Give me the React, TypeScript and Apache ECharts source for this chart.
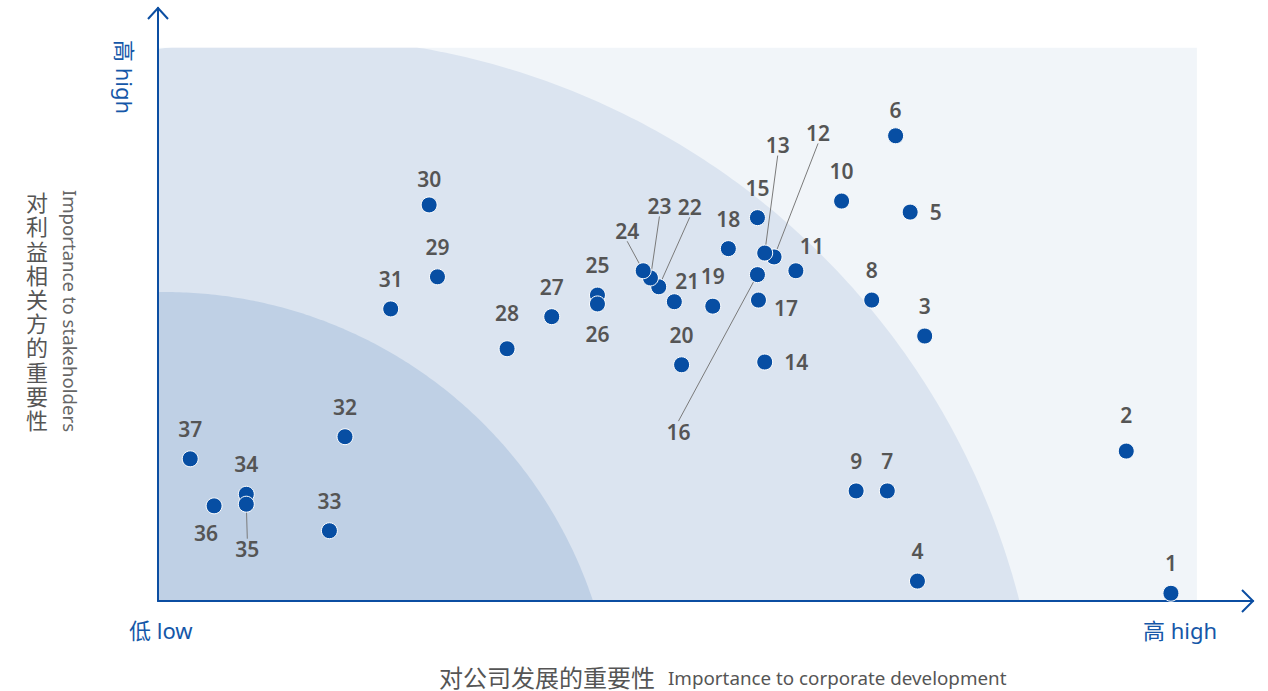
import React, { useEffect, useRef } from "react";
import * as echarts from "echarts";

// ---------------- data ----------------
const issueIds = [
  "1", "2", "3", "4", "5", "6", "7", "8", "9", "10",
  "11", "12", "13", "14", "15", "16", "17", "18", "19", "20",
  "21", "22", "23", "24", "25", "26", "27", "28", "29", "30",
  "31", "32", "33", "34", "35", "36", "37",
];
// importance to corporate development (0-10)
const corporateImportance = [
  9.75, 9.32, 7.38, 7.31, 7.24, 7.10, 7.02, 6.87, 6.72, 6.58,
  6.14, 5.93, 5.84, 5.84, 5.77, 5.77, 5.78, 5.49, 5.34, 5.04,
  4.97, 4.82, 4.74, 4.67, 4.23, 4.23, 3.79, 3.36, 2.69, 2.61,
  2.24, 1.80, 1.65, 0.85, 0.85, 0.54, 0.31,
];
// importance to stakeholders (0-10)
const stakeholderImportance = [
  0.14, 2.71, 4.79, 0.36, 7.03, 8.41, 1.99, 5.44, 1.99, 7.23,
  5.97, 6.22, 6.29, 4.32, 6.93, 5.90, 5.44, 6.37, 5.33, 4.27,
  5.41, 5.68, 5.84, 5.97, 5.53, 5.37, 5.14, 4.56, 5.86, 7.16,
  5.28, 2.97, 1.27, 1.93, 1.75, 1.72, 2.57,
];
const xEndLabels = ["低 low", "高 high"];
const yEndLabel = "高 high";
const xTitleCn = "对公司发展的重要性";
const xTitleEn = "Importance to corporate development";
const yTitleCn = "对利益相关方的重要性";
const yTitleEn = "Importance to stakeholders";

// ---------------- styling ----------------
const AXIS_BLUE = "#0b4ea2";
const LABEL_BLUE = "#1557a8";
const DOT_BLUE = "#074ea3";
const TEXT_GREY = "#555555";
const FONT = '"Noto Sans", "Noto Sans CJK SC", sans-serif';

// label side per issue (style, not data); default is top
const labelSide: Record<string, string> = {
  "5": "right",
  "14": "right",
  "17": "right",
  "26": "bottom",
  "36": "bottom",
};
// small nudges of labels (dx, dy)
const labelNudge: Record<string, number[]> = {
  "11": [16, 5],
  "21": [13, 9],
  "17": [-4, 8],
  "36": [-8, -3],
  "2": [0, -6],
  "28": [0, -6],
  "6": [0, 4],
  "30": [0, 4],
};
// labels moved away with a leader line (dx, dy from the dot centre)
const leaderShift: Record<string, number[]> = {
  "12": [44, -124],
  "13": [13, -108],
  "16": [-79, 157],
  "22": [31, -80],
  "23": [9, -72],
  "24": [-16, -40],
  "35": [1, 45],
};

const X_MAX = 10.54;
const Y_MAX = 10.72;

function zonePolygon(o: number[], c: number[], k: number, rel: number[], r: number) {
  const cx = o[0] + rel[0] * k;
  const cy = o[1] + rel[1] * k;
  const R = r * k;
  const top = c[1];
  const bx = cx + Math.sqrt(Math.max(R * R - (o[1] - cy) * (o[1] - cy), 0));
  const ly = cy - Math.sqrt(Math.max(R * R - (o[0] - cx) * (o[0] - cx), 0));
  const a1 = Math.atan2(o[1] - cy, bx - cx);
  const a2 = Math.atan2(ly - cy, o[0] - cx);
  const pts: number[][] = [[o[0], o[1]]];
  const n = 160;
  for (let i = 0; i <= n; i++) {
    const a = a1 + ((a2 - a1) * i) / n;
    let x = cx + R * Math.cos(a);
    let y = cy + R * Math.sin(a);
    if (y < top) y = top;
    if (x > c[0]) x = c[0];
    if (x < o[0]) x = o[0];
    pts.push([x, y]);
  }
  return pts;
}

export default function App() {
  const ref = useRef<HTMLDivElement>(null);
  useEffect(() => {
    if (!ref.current) return;
    const chart = echarts.init(ref.current, undefined, { renderer: "svg" });

    const points = issueIds.map((id, i) => {
      const item: any = {
        name: id,
        value: [corporateImportance[i], stakeholderImportance[i]],
      };
      if (leaderShift[id]) {
        item.label = { position: "inside" };
        item.labelLine = { show: true };
      } else if (labelSide[id]) {
        item.label = { position: labelSide[id] };
      }
      return item;
    });

    const option: any = {
      animation: false,
      grid: { left: 158, top: 8, right: 15, bottom: 90, containLabel: false },
      xAxis: {
        type: "value",
        min: 0,
        max: X_MAX,
        z: 3,
        axisLine: { show: true, onZero: false, lineStyle: { color: AXIS_BLUE, width: 2 } },
        axisTick: { show: false },
        axisLabel: { show: false },
        splitLine: { show: false },
      },
      yAxis: {
        type: "value",
        min: 0,
        max: Y_MAX,
        z: 3,
        axisLine: { show: true, onZero: false, lineStyle: { color: AXIS_BLUE, width: 2 } },
        axisTick: { show: false },
        axisLabel: { show: false },
        splitLine: { show: false },
      },
      series: [
        {
          type: "custom",
          silent: true,
          z: 1,
          clip: false,
          data: [[0, 0]],
          renderItem: (params: any, api: any) => {
            const o = api.coord([0, 0]);
            const c = api.coord([10, 10]);
            const w = c[0] - o[0];
            const h = o[1] - c[1];
            const k = w / 1039;
            return {
              type: "group",
              children: [
                {
                  type: "rect",
                  shape: { x: o[0], y: c[1], width: w, height: h },
                  style: { fill: "#f1f5f9" },
                },
                {
                  type: "polygon",
                  shape: { points: zonePolygon(o, c, k, [135, 186], 750) },
                  style: { fill: "#dbe4f0" },
                },
                {
                  type: "polygon",
                  shape: { points: zonePolygon(o, c, k, [7, 142], 451) },
                  style: { fill: "#bfd0e5" },
                },
              ],
            };
          },
        },
        {
          type: "scatter",
          z: 4,
          symbolSize: 16,
          itemStyle: { color: DOT_BLUE, borderColor: "#ffffff", borderWidth: 1, opacity: 1 },
          label: {
            show: true,
            position: "top",
            distance: 11,
            formatter: "{b}",
            color: TEXT_GREY,
            fontSize: 21,
            fontWeight: 600,
            fontFamily: FONT,
          },
          labelLine: { show: false, lineStyle: { color: "#7a7a7a", width: 1 } },
          labelLayout: (params: any) => {
            const id = issueIds[params.dataIndex];
            const s = leaderShift[id] || labelNudge[id];
            if (s) return { dx: s[0], dy: s[1] };
            return {};
          },
          emphasis: { disabled: true },
          data: points,
        },
      ],
      graphic: [
        {
          type: "polyline",
          z: 10,
          shape: { points: [[148, 19], [158, 8], [168, 19]] },
          style: { stroke: AXIS_BLUE, lineWidth: 2, fill: "none" },
        },
        {
          type: "polyline",
          z: 10,
          shape: { points: [[1242, 590], [1253, 601], [1242, 612]] },
          style: { stroke: AXIS_BLUE, lineWidth: 2, fill: "none" },
        },
        {
          type: "text",
          x: 129,
          y: 630,
          style: {
            text: xEndLabels[0], fill: LABEL_BLUE, fontSize: 22, fontFamily: FONT,
            textAlign: "left", textVerticalAlign: "middle",
          },
        },
        {
          type: "text",
          x: 1180,
          y: 630,
          style: {
            text: xEndLabels[1], fill: LABEL_BLUE, fontSize: 22, fontFamily: FONT,
            textAlign: "center", textVerticalAlign: "middle",
          },
        },
        {
          type: "text",
          x: 125,
          y: 77,
          rotation: -Math.PI / 2,
          style: {
            text: yEndLabel, fill: LABEL_BLUE, fontSize: 22, fontFamily: FONT,
            textAlign: "center", textVerticalAlign: "middle",
          },
        },
        {
          type: "text",
          x: 37,
          y: 311,
          style: {
            text: yTitleCn.split("").join("\n"), fill: TEXT_GREY, fontSize: 22, lineHeight: 24.2,
            fontFamily: FONT, textAlign: "center", textVerticalAlign: "middle",
          },
        },
        {
          type: "text",
          x: 70,
          y: 311,
          rotation: -Math.PI / 2,
          style: {
            text: yTitleEn, fill: "#666666", fontSize: 18.6, fontFamily: FONT,
            textAlign: "center", textVerticalAlign: "middle",
          },
        },
        {
          type: "text",
          x: 655,
          y: 677,
          style: {
            text: xTitleCn, fill: TEXT_GREY, fontSize: 24, lineHeight: 24, fontFamily: FONT,
            textAlign: "right", textVerticalAlign: "middle",
          },
        },
        {
          type: "text",
          x: 668,
          y: 678,
          style: {
            text: xTitleEn, fill: TEXT_GREY, fontSize: 18.8, lineHeight: 20, fontFamily: FONT,
            textAlign: "left", textVerticalAlign: "middle",
          },
        },
      ],
    };
    chart.setOption(option);
    return () => chart.dispose();
  }, []);
  return (
    <div
      ref={ref}
      style={{ position: "fixed", left: 0, top: 0, width: 1268, height: 691, background: "#ffffff" }}
    />
  );
}
